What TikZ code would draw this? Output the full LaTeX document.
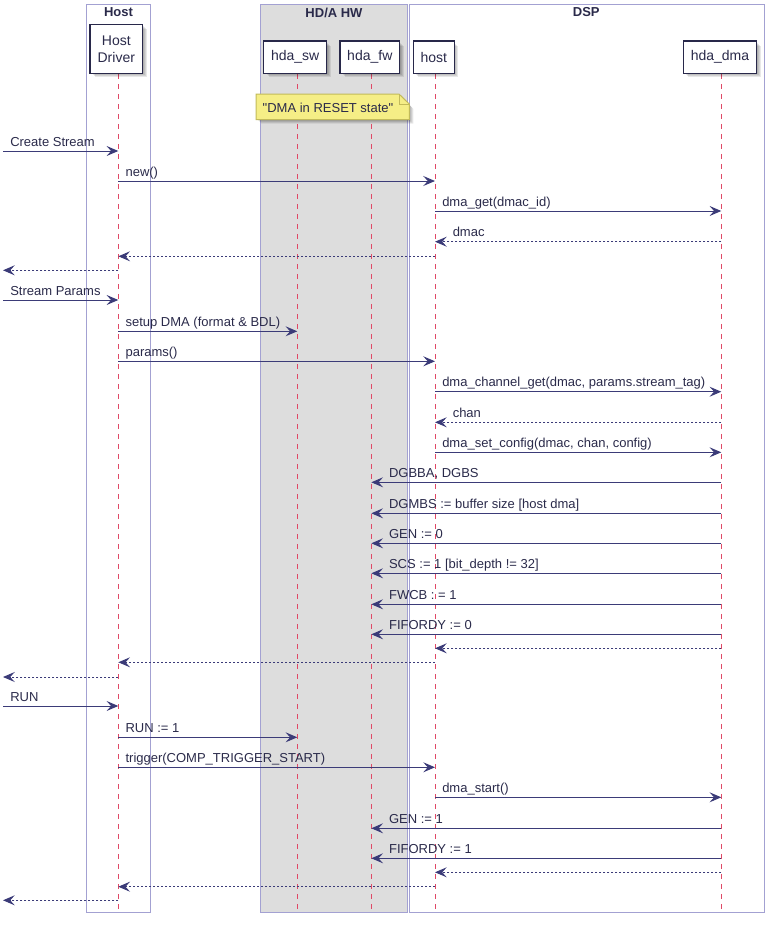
\documentclass[tikz,border=0pt]{standalone}
\usepackage{fontspec}
\setmainfont{Liberation Sans}
\usetikzlibrary{arrows.meta,calc}
\definecolor{arr}{HTML}{3B3B78}
\definecolor{txt}{HTML}{2A2A4A}
\definecolor{boxb}{HTML}{A3A1D2}
\definecolor{life}{HTML}{E04866}
\definecolor{hwfill}{HTML}{DDDDDD}
\definecolor{notefill}{HTML}{F5EE86}
\definecolor{noteb}{HTML}{C2BA5A}
\definecolor{partb}{HTML}{28284A}
\tikzset{
  grp/.style={draw=boxb, line width=0.75pt},
  grptitle/.style={font=\bfseries\fontsize{9.75pt}{11pt}\selectfont, text=txt, inner sep=0pt},
  part/.style={draw=partb, fill=white, line width=1.1pt, inner sep=0pt,
    minimum height=#1*0.75pt, font=\fontsize{10.5pt}{12.75pt}\selectfont, text=txt, align=center},
  pshadow/.style={fill=black, draw=none, opacity=0.09},
  lifeline/.style={draw=life, line width=0.75pt, dash pattern=on 3.75pt off 3.75pt},
  msg/.style={draw=arr, line width=0.75pt, -{Stealth[length=8.8pt,width=7.5pt,inset=3.4pt]}},
  ret/.style={msg, dash pattern=on 1.5pt off 1.5pt},
  lbl/.style={font=\fontsize{9.75pt}{11pt}\selectfont, text=txt, inner sep=0pt, anchor=base west},
  notebox/.style={fill=notefill, draw=noteb, line width=0.75pt},
}
% right-going message: from, to, y, label
\newcommand\rmsg[5][msg]{%
  \draw[#1] ($(#2)+(0,#4)$) -- ($(#3)+(0,#4)$);
  \node[lbl] at ($(#2)+(7,#4-5)$) {#5};}
% left-going message with label placed near target
\newcommand\lmsg[5][msg]{%
  \draw[#1] ($(#2)+(0,#4)$) -- ($(#3)+(0,#4)$);
  \node[lbl] at ($(#3)+(17.5,#4-5)$) {#5};}
\newcommand\nmsg[4][ret]{%
  \draw[#1] ($(#2)+(0,#4)$) -- ($(#3)+(0,#4)$);}
% soft shadow of a box given by its corners
\newcommand\softshadow[4]{%
  \foreach \d in {2,3,4,5}{\fill[pshadow] (#1+\d,#2+\d) rectangle (#3+\d-1,#4+\d-1);}}
\begin{document}
\begin{tikzpicture}[x=0.75pt,y=-0.75pt]
\useasboundingbox (0,0) rectangle (774,929);
% group boxes
\path[grp, fill=hwfill] (260,4.3) rectangle (407.5,912.3);
\path[grp] (86.3,4.3) rectangle (150.3,912.3);
\path[grp] (409,4.3) rectangle (764.3,912.3);
\node[grptitle] (tHost) at (118.5,12.5) {Host};
\node[grptitle] (tHW) at (334,12.5) {HD/A HW};
\node[grptitle] (tDSP) at (586.3,12.5) {DSP};
% lifeline reference coordinates (x of each lifeline)
\coordinate (L) at (3,0);
\coordinate (hdL) at (118.3,0);
\coordinate (hsL) at (297.3,0);
\coordinate (hfL) at (371.3,0);
\coordinate (hoL) at (435,0);
\coordinate (hmL) at (721.3,0);
% lifelines
\foreach \c in {hdL,hsL,hfL,hoL,hmL}{
  \draw[lifeline] ($(\c)+(0,74)$) -- ($(\c)+(0,912.3)$);
}
% participant shadows
\softshadow{90}{24.3}{142.7}{73.3}
\softshadow{263.7}{41}{326.7}{73.3}
\softshadow{340}{41}{399.7}{73.3}
\softshadow{413.3}{41}{454.3}{73.3}
\softshadow{683.3}{41}{756.7}{73.3}
% participants
\node[part=49, minimum width=52.7*0.75pt] (hd) at (116.3,48.8) {Host\\Driver};
\node[part=32.3, minimum width=63*0.75pt] (hs) at (295.2,57.2) {hda\_sw};
\node[part=32.3, minimum width=59.7*0.75pt] (hf) at (369.8,57.2) {hda\_fw};
\node[part=32.3, minimum width=41*0.75pt] (ho) at (433.8,57.2) {host};
\node[part=32.3, minimum width=73.4*0.75pt] (hm) at (720,57.2) {hda\_dma};
% note
\foreach \d in {2,3,4,5}{\fill[pshadow] (256+\d,94+\d) -- (399+\d,94+\d) -- (408.3+\d,104+\d) -- (408.3+\d,118.7+\d) -- (256+\d,118.7+\d) -- cycle;}
\draw[notebox] (256,94) -- (399,94) -- (409.3,104) -- (409.3,119.7) -- (256,119.7) -- cycle;
\draw[draw=noteb, line width=0.75pt] (399,94) -- (399,104) -- (409.3,104);
\node[font=\fontsize{9.75pt}{11pt}\selectfont, text=txt, inner sep=0pt] (note) at (328,107.5) {\textquotedbl DMA in RESET state\textquotedbl};
% messages
\rmsg{L}{hdL}{151}{Create Stream}
\rmsg{hdL}{hoL}{181}{new()}
\rmsg{hoL}{hmL}{211}{dma\_get(dmac\_id)}
\lmsg[ret]{hmL}{hoL}{241.7}{dmac}
\nmsg{hoL}{hdL}{256.3}
\nmsg{hdL}{L}{270.3}
\rmsg{L}{hdL}{300}{Stream Params}
\rmsg{hdL}{hsL}{331.3}{setup DMA (format \& BDL)}
\rmsg{hdL}{hoL}{361.3}{params()}
\rmsg{hoL}{hmL}{391.7}{dma\_channel\_get(dmac, params.stream\_tag)}
\lmsg[ret]{hmL}{hoL}{422.3}{chan}
\rmsg{hoL}{hmL}{452.3}{dma\_set\_config(dmac, chan, config)}
\lmsg{hmL}{hfL}{482.3}{DGBBA, DGBS}
\lmsg{hmL}{hfL}{513.3}{DGMBS := buffer size [host dma]}
\lmsg{hmL}{hfL}{543.3}{GEN := 0}
\lmsg{hmL}{hfL}{573.3}{SCS := 1 [bit\_depth != 32]}
\lmsg{hmL}{hfL}{604.3}{FWCB : = 1}
\lmsg{hmL}{hfL}{634.3}{FIFORDY := 0}
\nmsg{hmL}{hoL}{648.3}
\nmsg{hoL}{hdL}{662.3}
\nmsg{hdL}{L}{677}
\rmsg{L}{hdL}{706}{RUN}
\rmsg{hdL}{hsL}{737.3}{RUN := 1}
\rmsg{hdL}{hoL}{767.3}{trigger(COMP\_TRIGGER\_START)}
\rmsg{hoL}{hmL}{797.3}{dma\_start()}
\lmsg{hmL}{hfL}{828.3}{GEN := 1}
\lmsg{hmL}{hfL}{858.3}{FIFORDY := 1}
\nmsg{hmL}{hoL}{872.3}
\nmsg{hoL}{hdL}{886.7}
\nmsg{hdL}{L}{900.3}
\end{tikzpicture}
\end{document}
